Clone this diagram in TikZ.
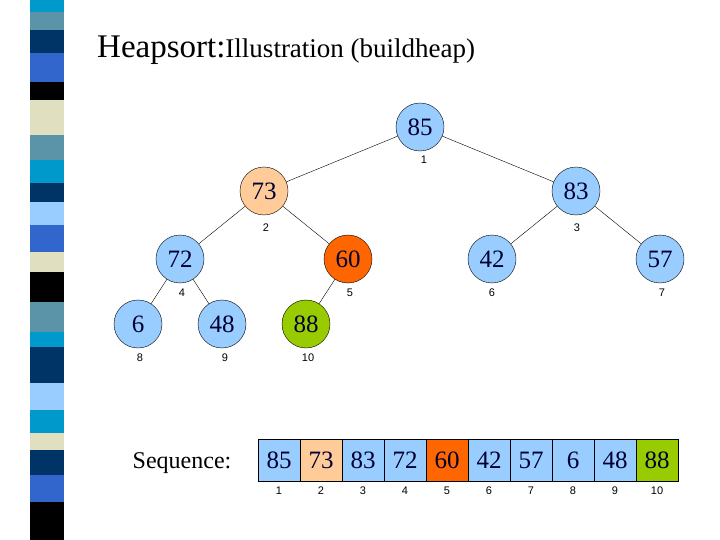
\documentclass[tikz,border=0pt]{standalone}
\usepackage{fontspec}
\setmainfont{Liberation Serif}
\newfontfamily\idxfont{Liberation Sans}
\definecolor{lb}{HTML}{99CCFF}
\definecolor{pe}{HTML}{FFCC99}
\definecolor{og}{HTML}{FF6600}
\definecolor{gr}{HTML}{99CC00}
\definecolor{tx}{HTML}{000033}
\definecolor{s1}{HTML}{0099CC}
\definecolor{s2}{HTML}{5B93A8}
\definecolor{s3}{HTML}{003366}
\definecolor{s4}{HTML}{3366CC}
\definecolor{s5}{HTML}{000000}
\definecolor{s6}{HTML}{E0E0C0}
\begin{document}
\begin{tikzpicture}[x=1pt,y=-1pt,
  hn/.style={circle,draw,thin,minimum size=48pt,inner sep=0pt,font=\fontsize{25}{25}\selectfont,text=tx},
  idx/.style={font=\idxfont\fontsize{11}{11}\selectfont},
  cell/.style={draw,minimum width=42pt,minimum height=42pt,inner sep=0pt,font=\fontsize{25}{25}\selectfont,text=tx},
  edge/.style={thin}]
\useasboundingbox (0,0) rectangle (720,540);
\foreach \a/\b/\c in {0/12/s1,12/30/s2,30/53/s3,53/82/s4,82/100/s5,100/135/s6,135/160/s2,160/183/s1,183/202/s3,202/225/lb,225/252/s4,252/272/s6,272/302/s5,302/332/s2,332/347/s1,347/383/s3,383/410/lb,410/433/s1,433/450/s6,450/475/s3,475/502/s4,502/540/s5}
  \fill[\c] (30,\a) rectangle (64,\b);
\node[anchor=base west,inner sep=0pt] (title) at (97,58) {\fontsize{33}{33}\selectfont Heapsort:\fontsize{27}{27}\selectfont Illustration (buildheap)};
\node[hn,fill=lb] (n1) at (420,127) {85};
\node[hn,fill=pe] (n2) at (264,191) {73};
\node[hn,fill=lb] (n3) at (576,191) {83};
\node[hn,fill=lb] (n4) at (180,259) {72};
\node[hn,fill=og] (n5) at (348,259) {60};
\node[hn,fill=lb] (n6) at (492,259) {42};
\node[hn,fill=lb] (n7) at (660,259) {57};
\node[hn,fill=lb] (n8) at (138,324) {6};
\node[hn,fill=lb] (n9) at (222,324) {48};
\node[hn,fill=gr] (n10) at (306,324) {88};
\foreach \p/\c in {n1/n2,n1/n3,n2/n4,n2/n5,n3/n6,n3/n7,n4/n8,n4/n9,n5/n10}
  \draw[edge] (\p) -- (\c);
\foreach \i/\x/\y in {1/424/160,2/266/228,3/577/228,4/182/293,5/350/293,6/492/293,7/662/293,8/140/358,9/225/358,10/308/358}
  \node[idx] (l\i) at (\x,\y) {\i};
\node[font=\fontsize{24}{24}\selectfont] (seq) at (182,463) {Sequence:};
\foreach \i/\v/\f in {1/85/lb,2/73/pe,3/83/lb,4/72/lb,5/60/og,6/42/lb,7/57/lb,8/6/lb,9/48/lb,10/88/gr}{
  \node[cell,fill=\f] (c\i) at ({258+42*\i-21},460) {\v};
  \node[idx] (ci\i) at ({258+42*\i-21},491) {\i};}
\end{tikzpicture}
\end{document}
